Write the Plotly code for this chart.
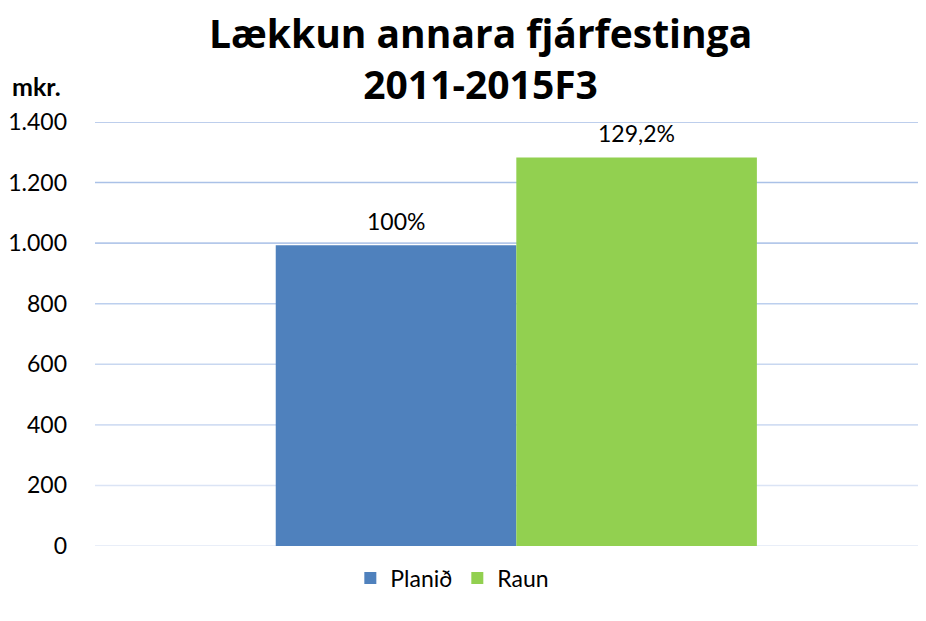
import plotly.graph_objects as go

categories = [""]
series_names = ["Planið", "Raun"]
planid_values = [993]
raun_values = [1283]
bar_labels = ["100%", "129,2%"]
tick_values = [0, 200, 400, 600, 800, 1000, 1200, 1400]
tick_labels = ["0", "200", "400", "600", "800", "1.000", "1.200", "1.400"]
grid_colors = ["#e2e9f6", "#dbe4f5", "#d2def3", "#c8d7f0", "#bccfee", "#b4c8ea", "#aac1e7", "#a7bee6"]
title_lines = ["Lækkun annara fjárfestinga", "2011-2015F3"]

FONT = "Lato"
TITLE_FONT = "Open Sans"
colors = ["#4f81bd", "#92d050"]

fig = go.Figure()
for name, vals, col in zip(series_names, [planid_values, raun_values], colors):
    fig.add_trace(go.Bar(x=[0], y=vals, name=name, marker=dict(color=col, line=dict(width=0))))

# grid lines with gradient colours
for tv, gc in zip(tick_values, grid_colors):
    fig.add_shape(type="line", xref="paper", x0=0, x1=1, yref="y", y0=tv, y1=tv,
                  line=dict(color=gc, width=1.6), layer="below")

# data labels
for i, (lab, vals) in enumerate(zip(bar_labels, [planid_values, raun_values])):
    fig.add_annotation(x=0, y=vals[0], xref="x", yref="y", text=lab, showarrow=False,
                       xshift=(-120.5 if i == 0 else 120.5), yanchor="bottom", yshift=8,
                       font=dict(family=FONT, size=23, color="#000000"))

fig.add_annotation(xref="paper", yref="paper", x=-0.102, y=1.085, xanchor="left", yanchor="middle",
                   text="<b>mkr.</b>", showarrow=False, font=dict(family=FONT, size=25, color="#000000"))

fig.add_annotation(xref="paper", yref="paper", x=0.464, y=1.1505, xanchor="center", yanchor="middle",
                   text="<b>" + "<br>".join(title_lines) + "</b>", showarrow=False,
                   font=dict(family=TITLE_FONT, size=39, color="#000000"))

fig.update_layout(
    width=918, height=613,
    margin=dict(l=85, r=0, t=114, b=75),
    paper_bgcolor="white", plot_bgcolor="white",
    barmode="group", bargap=0.421, bargroupgap=0,
    xaxis=dict(range=[-0.507, 0.493], showticklabels=False, showgrid=False, zeroline=False, showline=False),
    yaxis=dict(range=[0, 1400], tickvals=tick_values, ticktext=tick_labels, showgrid=False, zeroline=False,
               showline=False, ticklabelstandoff=27, tickfont=dict(family=FONT, size=23, color="#000000")),
    legend=dict(orientation="h", xanchor="center", x=0.43, yanchor="middle", y=-0.0755,
                font=dict(family=FONT, size=23, color="#000000"), itemwidth=30, traceorder="normal"),
    showlegend=True,
)

fig.write_html("out.html")
